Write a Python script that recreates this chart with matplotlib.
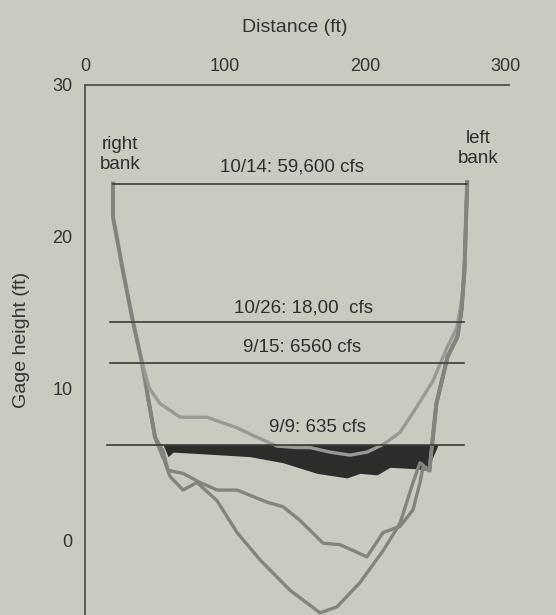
import matplotlib
matplotlib.use("Agg")
import matplotlib.pyplot as plt

plt.rcParams['font.family'] = ['Liberation Sans', 'DejaVu Sans']

# ---- data (distance ft, gage height ft) ----
left_bank_x = [20, 20, 27, 34, 40.7]
left_bank_y = [23.5, 21.3, 17.8, 14.5, 11.7]

right_bank_x = [246, 251, 259, 266, 269, 271, 273]
right_bank_y = [4.6, 9.0, 12.1, 13.4, 15.2, 17.8, 23.6]

# bed profile A (highest)
bed_a_x = [46, 53.6, 67.9, 87.1, 108.6, 120, 137, 151.4, 160.7, 175, 189.3, 201.4,
           212.9, 225, 234.3, 248.6, 258.6, 265.7, 269.3, 271.4, 273]
bed_a_y = [10.0, 9.0, 8.1, 8.1, 7.4, 6.9, 6.2, 6.1, 6.1, 5.8, 5.6, 5.8,
           6.3, 7.1, 8.4, 10.5, 12.7, 14.0, 16.0, 17.8, 23.6]

# bed profile B (middle)
bed_b_x = [45, 50, 55.7, 59.3, 70, 82.1, 94.3, 108.6, 130, 141.4, 153.6, 170,
           182.1, 201.4, 212.9, 225, 234.3, 239.3, 241.4]
bed_b_y = [9.4, 6.8, 5.9, 4.6, 4.4, 3.8, 3.3, 3.3, 2.5, 2.2, 1.3, -0.2,
           -0.3, -1.1, 0.5, 0.9, 2.0, 3.8, 4.8]

# bed profile C (deepest)
bed_c_x = [45, 50, 55.7, 60.7, 70, 80, 94.3, 108.6, 125, 146.4, 167.9, 180,
           196.4, 212.9, 225, 234.3, 239.3, 246]
bed_c_y = [9.4, 6.8, 5.5, 4.2, 3.3, 3.8, 2.6, 0.5, -1.3, -3.3, -4.8, -4.4,
           -2.8, -0.7, 1.1, 3.8, 5.1, 4.6]

# 9/9 bed (bottom of the flow area at 635 cfs)
bed_99_x = [55.7, 59.3, 62.9, 82.1, 117.9, 141.4, 165.7, 187.1, 196.4, 208.6,
            217.9, 237.1, 244.3, 251.4, 252.1]
bed_99_y = [6.3, 5.5, 5.8, 5.7, 5.5, 5.1, 4.4, 4.1, 4.4, 4.3,
            4.8, 4.7, 4.6, 6.1, 6.3]

# water surfaces
stage_labels = ["10/14: 59,600 cfs", "10/26: 18,00  cfs", "9/15: 6560 cfs", "9/9: 635 cfs"]
stage_heights = [23.5, 14.4, 11.7, 6.3]
stage_x0 = [20, 18, 18, 16]
stage_x1 = [273, 271, 271, 271]
label_x = [148, 156, 155, 166]
label_y = [24.6, 15.3, 12.7, 7.4]

x_ticks = [0, 100, 200, 300]
y_ticks = [0, 10, 20, 30]

bg = '#cbcac1'
txt = '#2e2e2e'
fig = plt.figure(figsize=(5.56, 6.15), dpi=100, facecolor=bg)
ax = fig.add_axes([85/556, 0, 420/556, 530/615])
ax.set_facecolor(bg)
ax.set_xlim(0, 300)
ax.set_ylim(30 - 530/15.17, 30)

bed_color = '#84847f'
lw = 2.4
# banks
ax.plot(left_bank_x + bed_c_x[:3], left_bank_y + bed_c_y[:3], color=bed_color, lw=lw + 0.5,
        solid_joinstyle='round', zorder=3)
ax.plot(right_bank_x, right_bank_y, color='#77776f', lw=lw + 0.5, solid_joinstyle='round', zorder=3)
# bed profiles
ax.plot([left_bank_x[-1]] + bed_a_x, [left_bank_y[-1]] + bed_a_y, color='#9a9a95', lw=lw,
        solid_joinstyle='round', zorder=3)
ax.plot(bed_b_x + right_bank_x, bed_b_y + right_bank_y, color=bed_color, lw=lw,
        solid_joinstyle='round', zorder=3)
ax.plot(bed_c_x + right_bank_x[1:], bed_c_y + right_bank_y[1:], color=bed_color, lw=lw,
        solid_joinstyle='round', zorder=3)

# 9/9 flow area
ax.fill_between(bed_99_x, bed_99_y, stage_heights[3], color='#2c2c2a', zorder=2, lw=0)

# water surface lines and labels
for lab, h, x0, x1, lx, ly in zip(stage_labels, stage_heights, stage_x0, stage_x1, label_x, label_y):
    ax.plot([x0, x1], [h, h], color='#3c3c3a', lw=1.2, zorder=4)
    ax.text(lx, ly, lab, ha='center', va='center', fontsize=13.5, color=txt)

ax.text(25, 25.4, "right\nbank", ha='center', va='center', fontsize=13.5, color=txt,
        linespacing=1.25)
ax.text(281, 25.8, "left\nbank", ha='center', va='center', fontsize=13.5, color=txt,
        linespacing=1.25)

# axes styling
for s in ['right', 'bottom']:
    ax.spines[s].set_visible(False)
for s in ['left', 'top']:
    ax.spines[s].set_color('#505050')
    ax.spines[s].set_linewidth(1.3)
ax.spines['top'].set_bounds(0, 303)
ax.xaxis.tick_top()
ax.xaxis.set_label_position('top')
ax.set_xticks(x_ticks)
ax.set_yticks(y_ticks)
ax.tick_params(axis='both', length=0, labelsize=13, labelcolor='#333333')
ax.tick_params(axis='x', pad=7)
ax.tick_params(axis='y', pad=9)
ax.set_xlabel("Distance (ft)", fontsize=14, color='#333333', labelpad=19)
fig.text(22/556, 1 - 340/615, "Gage height (ft)", rotation=90, ha='center', va='center',
         fontsize=14, color='#333333')

fig.savefig("out.png", dpi=100, facecolor=bg)
